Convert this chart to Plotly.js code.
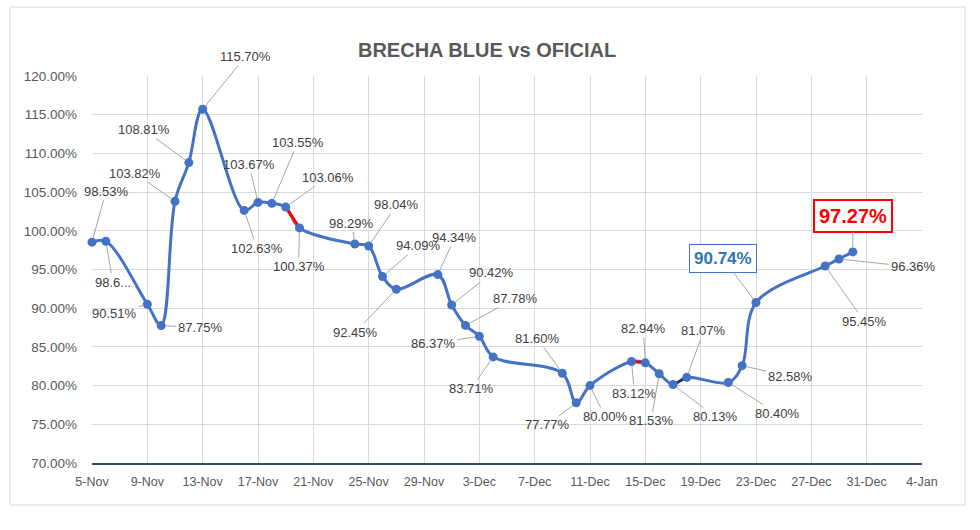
<!DOCTYPE html>
<html>
<head>
<meta charset="utf-8">
<script src="https://cdn.plot.ly/plotly-3.0.1.min.js"></script>
<style>html,body{margin:0;padding:0;background:#fff;}#chart{width:980px;height:530px;}</style>
</head>
<body>
<div id="chart"></div>
<script>
// ---- data ----
const dates = [
  '2020-11-05','2020-11-06','2020-11-09','2020-11-10','2020-11-11','2020-11-12','2020-11-13',
  '2020-11-16','2020-11-17','2020-11-18','2020-11-19','2020-11-20',
  '2020-11-24','2020-11-25','2020-11-26','2020-11-27','2020-11-30',
  '2020-12-01','2020-12-02','2020-12-03','2020-12-04',
  '2020-12-09','2020-12-10','2020-12-11',
  '2020-12-14','2020-12-15','2020-12-16','2020-12-17','2020-12-18',
  '2020-12-21','2020-12-22','2020-12-23',
  '2020-12-28','2020-12-29','2020-12-30'
];
const brecha = [
  98.53, 98.65, 90.51, 87.75, 103.82, 108.81, 115.70,
  102.63, 103.67, 103.55, 103.06, 100.37,
  98.29, 98.04, 94.09, 92.45, 94.34,
  90.42, 87.78, 86.37, 83.71,
  81.60, 77.77, 80.00,
  83.12, 82.94, 81.53, 80.13, 81.07,
  80.40, 82.58, 90.74,
  95.45, 96.36, 97.27
];
const pointLabels = brecha.map(v => v.toFixed(2) + '%');
pointLabels[1] = '98.6...';
const redSegments = [[10, 11], [24, 25]];
const darkSegments = [[27, 28]];
const xTickStart = '2020-11-05';
const xTickEnd = '2021-01-04';

// ---- label placement (pixel offsets of label from point) ----
const offsets = [
  [14,-51],[7,41],[-33,9],[39,2],[-40,-28],[-45,-33],[43,-53],
  [13,38],[-9,-38],[26,-61],[42,-30],[-1,39],
  [-3,-21],[28,-41],[36,-31],[-41,43],[17,-37],
  [40,-32],[50,-27],[-46,7],[-22,32],
  [-25,-35],[-29,22],[15,31],
  [3,32],[-2,-34],[-8,47],[42,32],[17,-47],
  [49,31],[48,11],[-33,-44],
  [39,55],[74,8],[0,-36]
];

const FONT = 'Liberation Sans, Arial, sans-serif';
const BLUE = '#4472C4';
const traces = [];
traces.push({
  x: dates, y: brecha, type: 'scatter', mode: 'lines',
  line: {color: BLUE, width: 3, shape: 'spline', smoothing: 1},
  hoverinfo: 'skip', showlegend: false, cliponaxis: false
});
redSegments.forEach(s => traces.push({
  x: [dates[s[0]], dates[s[1]]], y: [brecha[s[0]], brecha[s[1]]],
  type: 'scatter', mode: 'lines', line: {color: '#FF0000', width: 3},
  hoverinfo: 'skip', showlegend: false
}));
darkSegments.forEach(s => traces.push({
  x: [dates[s[0]], dates[s[1]]], y: [brecha[s[0]], brecha[s[1]]],
  type: 'scatter', mode: 'lines', line: {color: '#2B3550', width: 2.5},
  hoverinfo: 'skip', showlegend: false
}));
traces.push({
  x: dates, y: brecha, type: 'scatter', mode: 'markers',
  marker: {color: BLUE, size: 9},
  showlegend: false, cliponaxis: false
});

const annotations = brecha.map((v, i) => ({
  x: dates[i], y: v, xref: 'x', yref: 'y', text: pointLabels[i],
  showarrow: true, arrowhead: 0, arrowwidth: 1, arrowcolor: '#A6A6A6',
  ax: offsets[i][0], ay: offsets[i][1], standoff: 4,
  font: {family: FONT, size: 13, color: '#404040'}
}));
// highlighted labels
annotations[31].font = {family: FONT, size: 17, color: '#2E75B6'};
annotations[31].text = '<b>' + pointLabels[31] + '</b>';
annotations[31].bordercolor = BLUE; annotations[31].borderwidth = 1; annotations[31].borderpad = 4;
annotations[31].bgcolor = '#FFFFFF';
annotations[34].font = {family: FONT, size: 20, color: '#FF0000'};
annotations[34].text = '<b>' + pointLabels[34] + '</b>';
annotations[34].bordercolor = '#FF0000'; annotations[34].borderwidth = 2; annotations[34].borderpad = 4;
annotations[34].bgcolor = '#FFFFFF';

const layout = {
  width: 980, height: 530,
  paper_bgcolor: '#FFFFFF', plot_bgcolor: '#FFFFFF',
  margin: {l: 92, r: 58, t: 76, b: 67},
  title: {
    text: '<b>BRECHA BLUE vs OFICIAL</b>', xref: 'container', yref: 'container',
    x: 0.497, xanchor: 'center', y: 0.906, yanchor: 'middle',
    font: {family: FONT, size: 20, color: '#595959'}
  },
  xaxis: {
    type: 'date', range: [xTickStart, xTickEnd],
    tick0: xTickStart, dtick: 4 * 86400000, tickformat: '%-d-%b',
    showgrid: true, gridcolor: '#D9D9D9', gridwidth: 1,
    showline: true, linecolor: '#3B4A6B', linewidth: 2,
    ticks: '', zeroline: false, ticklabelstandoff: 6,
    tickfont: {family: FONT, size: 12.5, color: '#595959'},
    fixedrange: true
  },
  yaxis: {
    range: [70, 120], dtick: 5, tick0: 70,
    tickformat: '.2f', ticksuffix: '%',
    showgrid: true, gridcolor: '#D9D9D9', gridwidth: 1,
    showline: false, zeroline: false, ticks: '', ticklabelstandoff: 14,
    tickfont: {family: FONT, size: 13.5, color: '#595959'},
    fixedrange: true
  },
  annotations: annotations,
  shapes: [{
    type: 'rect', xref: 'paper', yref: 'paper',
    x0: -0.0988, x1: 1.0518, y0: -0.1085, y1: 1.178,
    line: {color: '#D9D9D9', width: 1}, fillcolor: 'rgba(0,0,0,0)', layer: 'below'
  }],
  showlegend: false
};

Plotly.newPlot('chart', traces, layout, {displayModeBar: false, staticPlot: true});
</script>
</body>
</html>
